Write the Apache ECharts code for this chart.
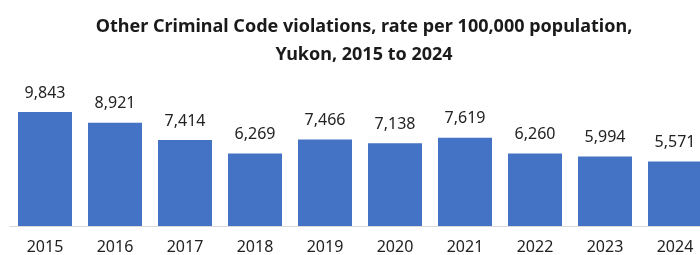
<!DOCTYPE html>
<html>
<head>
<meta charset="utf-8">
<script src="https://cdn.jsdelivr.net/npm/echarts@6/dist/echarts.min.js"></script>
<style>
  html, body { margin: 0; padding: 0; background: #fff; }
  #main { width: 700px; height: 255px; }
</style>
</head>
<body>
<div id="main"></div>
<script>
var years = ["2015", "2016", "2017", "2018", "2019", "2020", "2021", "2022", "2023", "2024"];
var rates = [9843, 8921, 7414, 6269, 7466, 7138, 7619, 6260, 5994, 5571];

var chart = echarts.init(document.getElementById("main"));

chart.setOption({
    animation: false,
    title: {
        text: "Other Criminal Code violations, rate per 100,000 population,\nYukon, 2015 to 2024",
        left: 359,
        textAlign: "center",
        top: 8,
        textStyle: {
            fontFamily: "Noto Sans",
            fontWeight: "bold",
            fontSize: 18,
            lineHeight: 28,
            color: "#1a1a1a"
        }
    },
    grid: { left: 10, width: 700, top: 87, bottom: 29, outerBoundsMode: "none" },
    xAxis: {
        type: "category",
        data: years,
        axisLine: { lineStyle: { color: "#d9d9d9", width: 1 } },
        axisTick: { show: false },
        axisLabel: {
            margin: 13,
            fontFamily: "Noto Sans",
            fontSize: 16,
            color: "#222"
        }
    },
    yAxis: {
        type: "value",
        min: 0,
        max: 12000,
        show: false,
        splitLine: { show: false }
    },
    series: [{
        type: "bar",
        data: rates,
        barWidth: 54,
        itemStyle: { color: "#4472C4" },
        label: {
            show: true,
            position: "top",
            distance: 11,
            fontFamily: "Noto Sans",
            fontSize: 16,
            color: "#222",
            formatter: function (p) {
                return p.value.toLocaleString("en-US");
            }
        }
    }]
});
</script>
</body>
</html>
